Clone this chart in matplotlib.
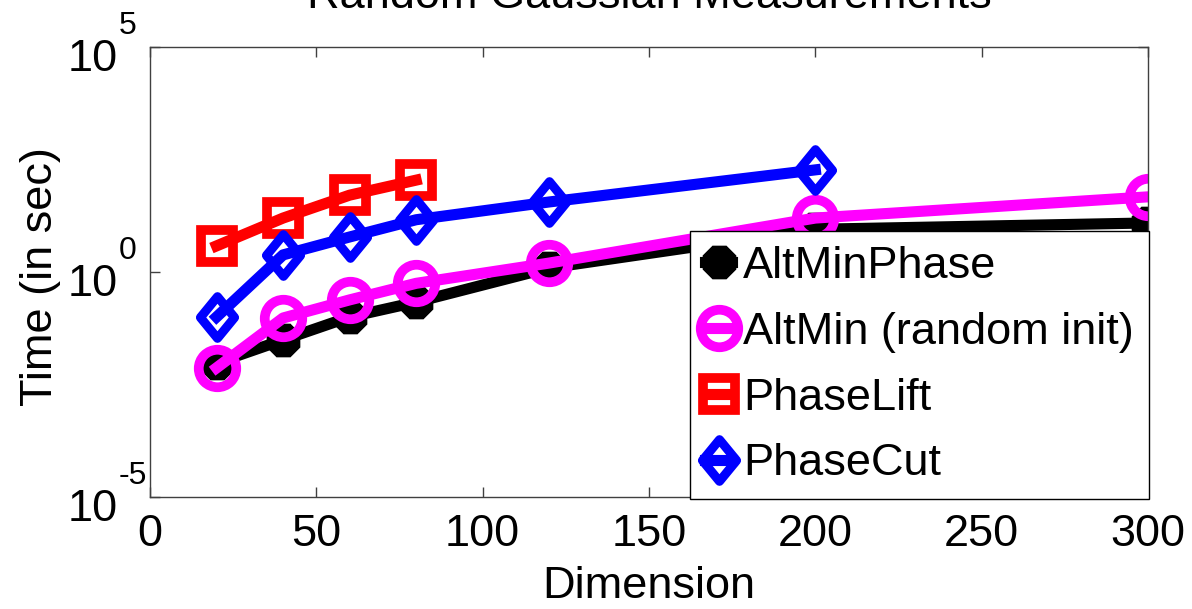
import matplotlib
matplotlib.use("Agg")
import matplotlib.pyplot as plt
from matplotlib.ticker import FixedLocator, NullFormatter, NullLocator
from matplotlib.transforms import offset_copy
from matplotlib.path import Path

plt.rcParams['font.family'] = ['Liberation Sans', 'DejaVu Sans']

# ---- data ----
dims_altminphase = [20, 40, 60, 80, 120, 200, 300]
time_altminphase = [0.0095, 0.031, 0.10, 0.214, 1.23, 8.9, 12.3]

dims_altmin = [20, 40, 60, 80, 120, 200, 300]
time_altmin = [0.0074, 0.095, 0.24, 0.56, 1.58, 15.8, 46.8]

dims_phaselift = [20, 40, 60, 80]
time_phaselift = [3.8, 15.8, 51.0, 110.0]

dims_phasecut = [20, 40, 60, 80, 120, 200]
time_phasecut = [0.10, 2.4, 6.0, 14.5, 36.0, 186.0]

labels = ["AltMinPhase", "AltMin (random init)", "PhaseLift", "PhaseCut"]
x_ticks = [0, 50, 100, 150, 200, 250, 300]
y_tick_exponents = [-5, 0, 5]

W, H = 1192, 609
fig = plt.figure(figsize=(W / 100, H / 100), dpi=100)
ax = fig.add_axes([150 / W, (H - 497) / H, 998 / W, 450 / H])

fs = 32.5
lw = 8

diamond = Path([(0, 1), (0.82, 0), (0, -1), (-0.82, 0), (0, 1)],
               [Path.MOVETO, Path.LINETO, Path.LINETO, Path.LINETO, Path.CLOSEPOLY])

ax.plot(dims_altminphase, time_altminphase, color='black', lw=lw,
        marker=(8, 2, 0), markersize=24, markeredgewidth=10,
        markeredgecolor='black', label=labels[0])
ax.plot(dims_altmin, time_altmin, color='#FF00FF', lw=lw,
        marker='o', markersize=27, markerfacecolor='none',
        markeredgewidth=7, markeredgecolor='#FF00FF', label=labels[1])
ax.plot(dims_phaselift, time_phaselift, color='#FF0000', lw=lw,
        marker='s', markersize=23, markerfacecolor='none',
        markeredgewidth=7, markeredgecolor='#FF0000', label=labels[2])
ax.plot(dims_phasecut, time_phasecut, color='#0000FF', lw=lw,
        marker=diamond, markersize=30, markerfacecolor='none',
        markeredgewidth=6.5, markeredgecolor='#0000FF', label=labels[3])

ax.set_yscale('log')
ax.set_xlim(0, 300)
ax.set_ylim(1e-5, 1e5)
ax.xaxis.set_major_locator(FixedLocator(x_ticks))
ax.yaxis.set_major_locator(FixedLocator([10.0 ** e for e in y_tick_exponents]))
ax.yaxis.set_minor_locator(NullLocator())
ax.yaxis.set_major_formatter(NullFormatter())
ax.yaxis.set_minor_formatter(NullFormatter())

ax.tick_params(axis='both', which='major', direction='in', length=7,
               width=1, colors='#404040', labelcolor='black',
               labelsize=fs, top=True, right=True)
ax.tick_params(axis='x', pad=12)
for sp in ax.spines.values():
    sp.set_color('#404040')
    sp.set_linewidth(1)

# MATLAB-style y tick labels: "10" with a raised exponent
base_tr = offset_copy(ax.get_yaxis_transform(), fig=fig, x=-32, y=-24, units='dots')
sup_tr = offset_copy(ax.get_yaxis_transform(), fig=fig, x=-31, y=13, units='dots')
for e in y_tick_exponents:
    v = 10.0 ** e
    ax.text(0, v, "10", transform=base_tr, ha='right', va='baseline',
            fontsize=fs, clip_on=False)
    ax.text(0, v, str(e), transform=sup_tr, ha='left', va='baseline',
            fontsize=23, clip_on=False)

ax.set_xlabel("Dimension", fontsize=fs, labelpad=8)
ax.set_ylabel("Time (in sec)", fontsize=fs)
ax.yaxis.set_label_coords((61 - 150) / 998, 0.49)

fig.text((150 + 1148) / 2 / W, 1 - 8 / H, "Random Gaussian Measurements",
         fontsize=fs, ha='center', va='baseline')

leg = ax.legend(loc='lower right', bbox_to_anchor=(1.001, -0.005),
                fontsize=fs, frameon=True, fancybox=False,
                edgecolor='black', borderpad=0.33, labelspacing=0.55,
                handlelength=0.6, handletextpad=0.25, borderaxespad=0,
                markerscale=1.0)
leg.get_frame().set_linewidth(1)
leg.get_frame().set_alpha(1)

fig.savefig("out.png", dpi=100)
